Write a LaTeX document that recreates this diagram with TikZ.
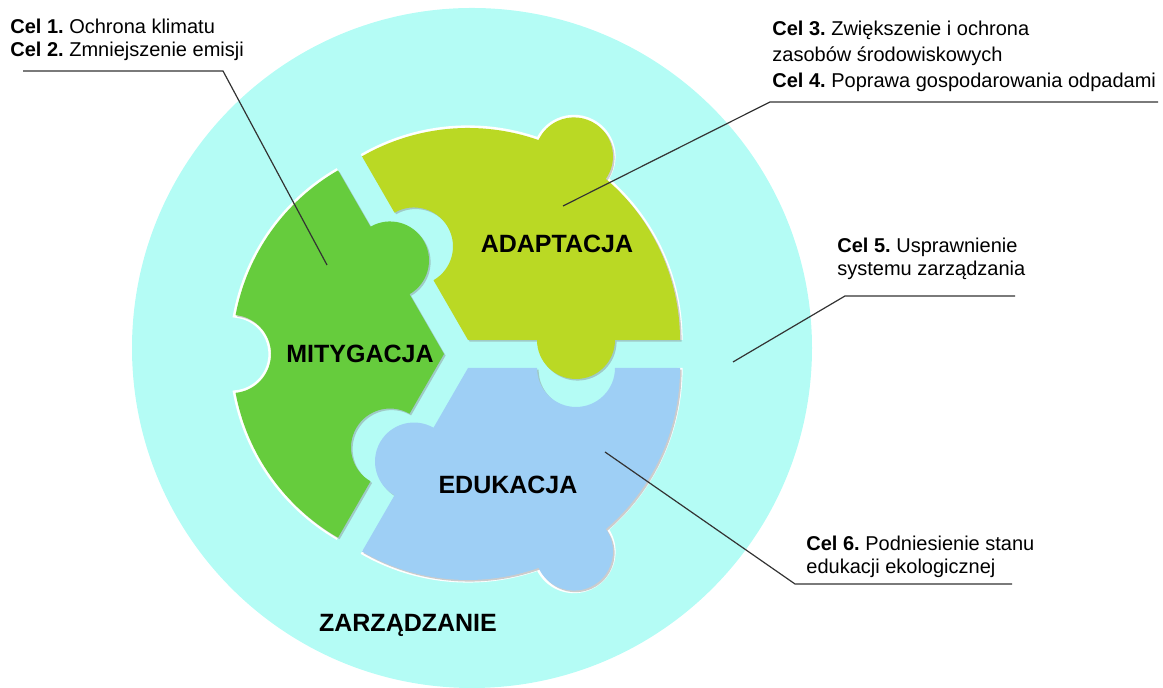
\documentclass[tikz,border=0pt]{standalone}
\usepackage{fontspec}
\setmainfont{Liberation Sans}
\usepackage{tikz}
\usetikzlibrary{positioning}
\frenchspacing

\definecolor{zarzadzanie}{RGB}{180,252,245}
\definecolor{mitygacja}{RGB}{102,204,61}
\definecolor{adaptacja}{RGB}{186,217,36}
\definecolor{edukacja}{RGB}{158,207,245}

% outer rim of a piece (knob: 155.28, notch: -204.72)
\newcommand{\outerarc}[1]{arc[start angle=0, end angle=49.45, radius=212] arc[start angle=-35.28, end angle=#1, radius=39] arc[start angle=70.55, end angle=120, radius=212]}
\newcommand{\piecepath}[1]{(0,0) -- (69,0) arc[start angle=180, end angle=360, radius=39] -- (212,0) \outerarc{#1} -- (120:147) arc[start angle=120, end angle=-60, radius=39] -- cycle}
\newcommand{\puzzlepiece}[4]{%
    \draw[piecerim, shift={#1}, rotate=#2] (212,0) \outerarc{#4};
    \fill[pieceshadow, shift={#1}, xshift=0.8pt, yshift=-0.8pt, rotate=#2] \piecepath{#4};
    \fill[#3, shift={#1}, rotate=#2] \piecepath{#4};
}

\begin{document}
\begin{tikzpicture}[
    x=0.5pt, y=0.5pt,
    piecelabel/.style={font=\fontsize{12.5}{15}\selectfont\bfseries, anchor=base, inner sep=0pt},
    goal/.style={font=\fontsize{10}{11.5}\selectfont, align=left, anchor=north west, inner sep=0pt},
    leader/.style={draw=black!80, line width=0.6pt},
    piecerim/.style={draw=white, line width=2.6pt},
    pieceshadow/.style={fill=black!50, opacity=0.4},
]
\useasboundingbox (0,0) rectangle (1163,688);

% Draw the management ring
\fill[zarzadzanie] (472,340) circle[radius=340];
\node[piecelabel] (zarz) at (408,56) {ZARZĄDZANIE};

% Draw the puzzle pieces
\puzzlepiece{(468,348)}{0}{adaptacja}{155.28}
\puzzlepiece{(444,334)}{120}{mitygacja}{-204.72}
\puzzlepiece{(468,320)}{240}{edukacja}{155.28}

\node[piecelabel] (mit) at (360,325) {MITYGACJA};
\node[piecelabel] (ada) at (557,435) {ADAPTACJA};
\node[piecelabel] (edu) at (508,194) {EDUKACJA};

% Draw the goals
\node[goal] (cel12) at (10,669) {\textbf{Cel 1.} Ochrona klimatu\\\textbf{Cel 2.} Zmniejszenie emisji};
\node[goal] (cel34) at (772,667) {\textbf{Cel 3.} Zwiększenie i ochrona\\[1.5pt]zasobów środowiskowych\\[1.5pt]\textbf{Cel 4.} Poprawa gospodarowania odpadami};
\node[goal] (cel5) at (837,450) {\textbf{Cel 5.} Usprawnienie\\systemu zarządzania};
\node[goal] (cel6) at (806,152) {\textbf{Cel 6.} Podniesienie stanu\\edukacji ekologicznej};

% Draw the leaders
\coordinate (u12a) at (23,617);
\coordinate (u12b) at (223,617);
\coordinate (p12) at (327,423);
\coordinate (u34a) at (1158,586);
\coordinate (u34b) at (770,586);
\coordinate (p34) at (563,482);
\coordinate (u5a) at (1015,392);
\coordinate (u5b) at (845,392);
\coordinate (p5) at (733,326);
\coordinate (u6a) at (1012,104);
\coordinate (u6b) at (795,104);
\coordinate (p6) at (605,236);

\draw[leader] (u12a) -- (u12b) -- (p12);
\draw[leader] (u34a) -- (u34b) -- (p34);
\draw[leader] (u5a) -- (u5b) -- (p5);
\draw[leader] (u6a) -- (u6b) -- (p6);

\end{tikzpicture}
\end{document}
